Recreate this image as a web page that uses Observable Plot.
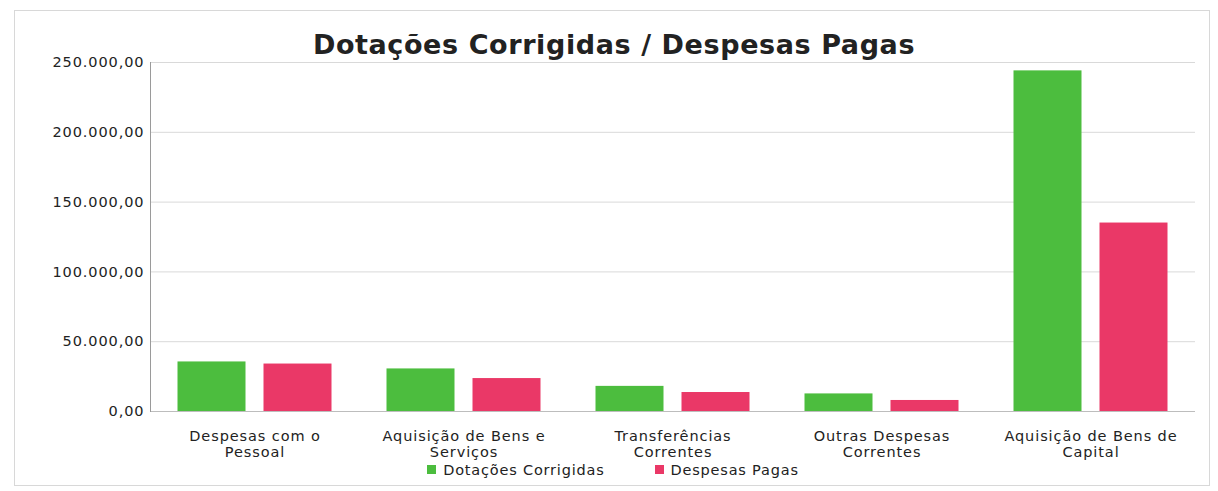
<!DOCTYPE html>
<html>
<head>
<meta charset="utf-8">
<script src="https://cdn.jsdelivr.net/npm/d3@7"></script>
<script src="https://cdn.jsdelivr.net/npm/@observablehq/plot@0.6"></script>
<style>
  html, body { margin: 0; padding: 0; background: #fff; }
  #wrap { position: relative; width: 1218px; height: 491px; font-family: "DejaVu Sans", sans-serif; }
  #frame { position: absolute; left: 14px; top: 10px; width: 1196px; height: 476px; border: 1px solid #d8d8d8; box-sizing: border-box; }
  #title { position: absolute; left: 0; width: 1218px; top: 31px; text-align: center; font-weight: bold; font-size: 27px; letter-spacing: 0.6px; color: #222; line-height: 1; padding-left: 10px; box-sizing: border-box; }
  #chart { position: absolute; left: 0; top: 52px; }
  #legend { position: absolute; left: 0; width: 1218px; top: 462px; display: flex; justify-content: center; gap: 50px; font-size: 14.5px; letter-spacing: 0.8px; color: #222; padding-left: 4px; }
  #legend span.sw { display: inline-block; width: 9px; height: 9px; margin-right: 7px; vertical-align: 1px; }
  #chart svg text { letter-spacing: 0.9px; }
</style>
</head>
<body>
<div id="wrap">
  <div id="frame"></div>
  <div id="title">Dotações Corrigidas / Despesas Pagas</div>
  <div id="chart"></div>
  <div id="legend"></div>
</div>
<script>
const categories = ["Pessoal", "BensServicos", "Transferencias", "Outras", "Capital"];
const categoryLabels = [
  "Despesas com o\nPessoal",
  "Aquisição de Bens e\nServiços",
  "Transferências\nCorrentes",
  "Outras Despesas\nCorrentes",
  "Aquisição de Bens de\nCapital"
];
const seriesNames = ["Dotações Corrigidas", "Despesas Pagas"];
const dotacoes = [35500, 30500, 18000, 12600, 244000];
const despesas = [34000, 23600, 13600, 7900, 135000];
const yTicks = [0, 50000, 100000, 150000, 200000, 250000];
const colors = ["#4cbd3e", "#ea3867"];

const ptBR = d3.formatLocale({decimal: ",", thousands: ".", grouping: [3], currency: ["", ""]});
const fmt = ptBR.format(",.2f");

const rows = categories.map((c, i) => ({cat: c, label: categoryLabels[i], dot: dotacoes[i], desp: despesas[i]}));

const width = 1218, mL = 150, mR = 23;
const band = (width - mL - mR) / categories.length;
const barW = 68, gap = 9;

const chart = Plot.plot({
  width,
  height: 409,
  marginLeft: mL,
  marginRight: mR,
  marginTop: 10,
  marginBottom: 50,
  style: {fontFamily: "DejaVu Sans, sans-serif", fontSize: "14.5px", color: "#222", background: "transparent"},
  x: {domain: categories, padding: 0},
  y: {domain: [0, 250000]},
  marks: [
    Plot.ruleY(yTicks, {stroke: "#d9d9d9", strokeWidth: 1}),
    Plot.axisY({ticks: yTicks, tickFormat: fmt, label: null, tickSize: 0, tickPadding: 6, fontSize: 14.5}),
    Plot.axisX({label: null, tickSize: 0, tickPadding: 18, lineHeight: 1.1, fontSize: 14.5,
      tickFormat: d => categoryLabels[categories.indexOf(d)]}),
    Plot.barY(rows, {x: "cat", y: "dot", fill: colors[0], insetLeft: band / 2 - gap - barW, insetRight: band / 2 + gap}),
    Plot.barY(rows, {x: "cat", y: "desp", fill: colors[1], insetLeft: band / 2 + gap, insetRight: band / 2 - gap - barW}),
    Plot.ruleY([0], {stroke: "#bdbdbd"}),
    Plot.frame({anchor: "left", stroke: "#9a9a9a"})
  ]
});
document.getElementById("chart").appendChild(chart);

const legend = document.getElementById("legend");
seriesNames.forEach((s, i) => {
  const d = document.createElement("div");
  d.innerHTML = `<span class="sw" style="background:${colors[i]}"></span>${s}`;
  legend.appendChild(d);
});
</script>
</body>
</html>
